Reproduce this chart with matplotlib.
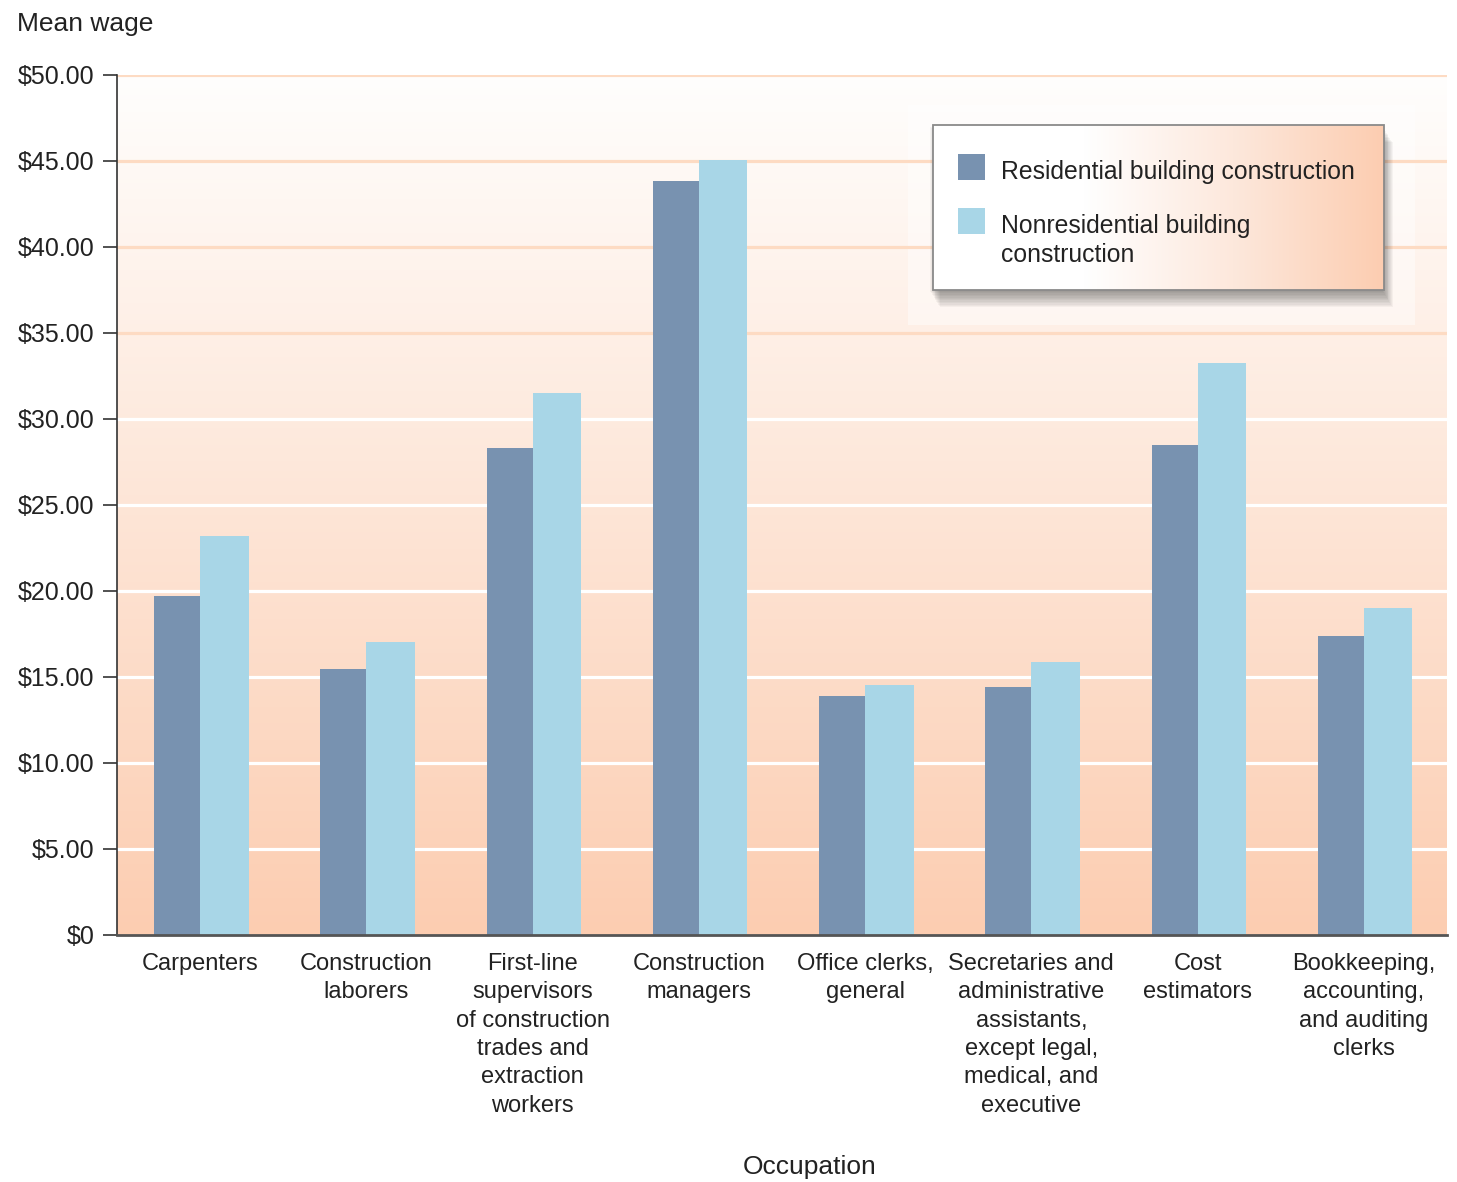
import numpy as np
import matplotlib
matplotlib.use("Agg")
import matplotlib.pyplot as plt
from matplotlib.patches import Rectangle
from matplotlib.colors import LinearSegmentedColormap

plt.rcParams['font.family'] = ['Liberation Sans', 'DejaVu Sans']

# data
occupations = [
    "Carpenters",
    "Construction\nlaborers",
    "First-line\nsupervisors\nof construction\ntrades and\nextraction\nworkers",
    "Construction\nmanagers",
    "Office clerks,\ngeneral",
    "Secretaries and\nadministrative\nassistants,\nexcept legal,\nmedical, and\nexecutive",
    "Cost\nestimators",
    "Bookkeeping,\naccounting,\nand auditing\nclerks",
]
residential = [19.70, 15.45, 28.30, 43.85, 13.90, 14.40, 28.50, 17.40]
nonresidential = [23.20, 17.05, 31.50, 45.05, 14.55, 15.85, 33.25, 19.00]
series_names = ["Residential building construction",
                "Nonresidential building\nconstruction"]
yticks = [0, 5, 10, 15, 20, 25, 30, 35, 40, 45, 50]
ytick_labels = ["$0"] + [f"${v:.2f}" for v in yticks[1:]]

dark = "#7892b0"
light = "#a8d6e7"
peach = "#fccdb1"
text_col = "#222222"

fig = plt.figure(figsize=(14.57, 11.82), dpi=100)
ax = fig.add_axes([117 / 1457, 1 - 935 / 1182, 1330 / 1457, 860 / 1182])

# background gradient, white at the top to peach at the bottom
bg = LinearSegmentedColormap.from_list("bg", [peach, "#fffefd"])
ax.imshow(np.linspace(0, 1, 256).reshape(-1, 1), cmap=bg, origin="lower",
          extent=[0, 1, 0, 1], transform=ax.transAxes, aspect="auto", zorder=0)

# lighter glow behind the legend
ax.add_patch(Rectangle(((908 - 117) / 1330, (935 - 325) / 860), 507 / 1330, 220 / 860,
                       transform=ax.transAxes, facecolor="white", alpha=0.45,
                       edgecolor="none", zorder=0.5))

# grid lines: peach near the top, white below
for v in yticks[1:]:
    c = "#fddbc3" if v >= 35 else "white"
    ax.axhline(v, color=c, lw=2.3, zorder=1)

x = np.arange(len(occupations))
w_dark, w_light = 0.277, 0.292
ax.bar(x - w_dark / 2, residential, w_dark, color=dark, zorder=2)
ax.bar(x + w_light / 2, nonresidential, w_light, color=light, zorder=2)

ax.set_xlim(-0.5, 7.5)
ax.set_ylim(0, 50)
ax.set_yticks(yticks)
ax.set_yticklabels(ytick_labels)
ax.set_xticks(x)
ax.set_xticklabels(occupations, linespacing=1.37, fontsize=17)
ax.tick_params(axis="y", length=10, width=1.2, color="#333333", labelsize=18,
               labelcolor=text_col, pad=6)
ax.tick_params(axis="x", length=0, labelcolor=text_col, pad=13)

for s in ["top", "right"]:
    ax.spines[s].set_visible(False)
ax.spines["left"].set_color("#333333")
ax.spines["left"].set_linewidth(1.2)
ax.spines["bottom"].set_color("#555555")
ax.spines["bottom"].set_linewidth(2)
ax.spines["left"].set_zorder(3)
ax.spines["bottom"].set_zorder(3)

fig.text(17 / 1457, 1 - 24 / 1182, "Mean wage", fontsize=19, color=text_col,
         ha="left", va="center")
fig.text(810 / 1457, 1 - 1167 / 1182, "Occupation", fontsize=19, color=text_col,
         ha="center", va="center")

# legend box drawn by hand so it can carry the gradient and shadow
lx0, lx1 = (933 - 117) / 1330, (1384 - 117) / 1330
ly0, ly1 = (935 - 290) / 860, (935 - 125) / 860
for i in range(12):
    dx, dy = 1 + i * 0.9, 2 + i * 1.4
    ax.add_patch(Rectangle((lx0 + (dx - 4) / 1330, ly0 - dy / 860),
                           lx1 - lx0 + 2 / 1330, ly1 - ly0,
                           transform=ax.transAxes, facecolor="black", alpha=0.035,
                           edgecolor="none", zorder=4))
leg_cmap = LinearSegmentedColormap.from_list("leg", ["white", "white", "#fde8dc", peach])
ax.imshow(np.linspace(0, 1, 256).reshape(1, -1), cmap=leg_cmap,
          extent=[lx0, lx1, ly0, ly1], transform=ax.transAxes, aspect="auto", zorder=5)
ax.add_patch(Rectangle((lx0, ly0), lx1 - lx0, ly1 - ly0, transform=ax.transAxes,
                       facecolor="none", edgecolor="#8a8a8a", lw=1.3, zorder=6))
for col, name, ty in [(dark, series_names[0], 167), (light, series_names[1], 221)]:
    ax.add_patch(Rectangle(((958 - 117) / 1330, (935 - ty - 13) / 860), 27 / 1330, 26 / 860,
                           transform=ax.transAxes, facecolor=col, edgecolor="none",
                           zorder=7))
    ax.text((1001 - 117) / 1330, (935 - ty + 7) / 860, name, transform=ax.transAxes,
            fontsize=17.8, color=text_col, ha="left", va="top", linespacing=1.28,
            zorder=7)

fig.savefig("out.png", dpi=100)
